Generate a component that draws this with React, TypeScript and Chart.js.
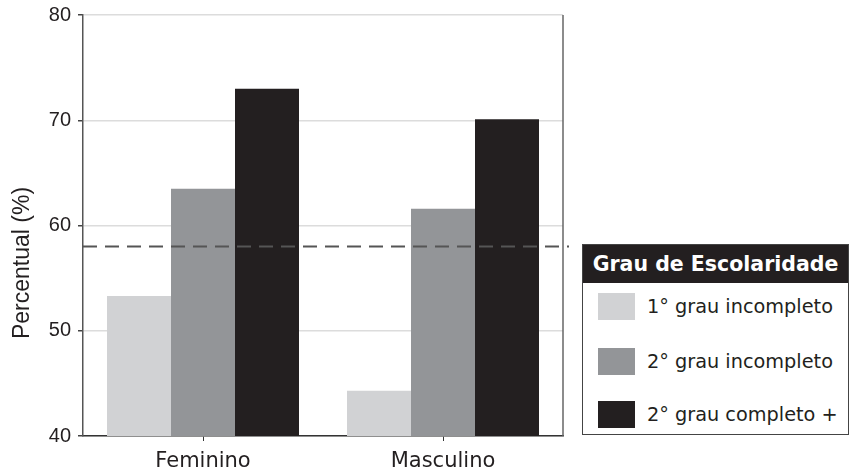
import React, { useEffect, useRef } from "react";
import { Chart, registerables } from "chart.js";

Chart.register(...registerables);

const categories = ["Feminino", "Masculino"];
const seriesLabels = ["1° grau incompleto", "2° grau incompleto", "2° grau completo +"];
const primeiroIncompleto = [53.3, 44.3];
const segundoIncompleto = [63.5, 61.6];
const segundoCompleto = [73.0, 70.1];
const seriesColors = ["#d1d2d4", "#939598", "#231f20"];
const referenceValue = 58;
const yMin = 40;
const yMax = 80;
const yStep = 10;
const yTitle = "Percentual (%)";
const legendTitle = "Grau de Escolaridade";

const overlayPlugin = {
  id: "overlay",
  afterDatasetsDraw(chart: any) {
    const { ctx, chartArea, scales } = chart;
    const y = scales.y.getPixelForValue(referenceValue);
    ctx.save();
    // reference dashed line
    ctx.strokeStyle = "#555555";
    ctx.lineWidth = 2;
    ctx.setLineDash([14, 8]);
    ctx.beginPath();
    ctx.moveTo(chartArea.left, y);
    ctx.lineTo(chartArea.right + 6, y);
    ctx.stroke();
    ctx.setLineDash([]);
    // right border
    ctx.strokeStyle = "#666666";
    ctx.lineWidth = 1.5;
    ctx.beginPath();
    ctx.moveTo(chartArea.right, chartArea.top);
    ctx.lineTo(chartArea.right, chartArea.bottom);
    ctx.stroke();
    // y title
    ctx.fillStyle = "#231f20";
    ctx.font = "23px 'Liberation Sans', Arial, sans-serif";
    ctx.textAlign = "center";
    ctx.textBaseline = "middle";
    ctx.translate(23, 263);
    ctx.rotate(-Math.PI / 2);
    ctx.fillText(yTitle, 0, 0);
    ctx.restore();
  },
};

export default function App() {
  const ref = useRef<HTMLCanvasElement | null>(null);

  useEffect(() => {
    if (!ref.current) return;
    const seriesData = [primeiroIncompleto, segundoIncompleto, segundoCompleto];
    const chart = new Chart(ref.current, {
      type: "bar",
      data: {
        labels: categories,
        datasets: seriesLabels.map((label, i) => ({
          label,
          data: seriesData[i],
          backgroundColor: seriesColors[i],
          borderWidth: 0,
          barPercentage: 1.0,
          categoryPercentage: 0.8,
        })),
      },
      options: {
        animation: false,
        responsive: false,
        devicePixelRatio: 1,
        layout: { padding: { left: 0, right: 292, top: 15, bottom: 0 } },
        plugins: {
          legend: { display: false },
          tooltip: { enabled: false },
        },
        scales: {
          x: {
            afterFit: (scale: any) => {
              scale.height = 36;
              scale.paddingLeft = 0;
              scale.paddingRight = 0;
            },
            grid: {
              offset: false,
              drawOnChartArea: false,
              drawTicks: true,
              tickLength: 5,
              tickColor: "#333333",
            },
            border: { color: "#333333", width: 1.5 },
            ticks: {
              color: "#231f20",
              padding: 8,
              font: { family: "'DejaVu Sans', sans-serif", size: 21 },
            },
          },
          y: {
            min: yMin,
            max: yMax,
            afterFit: (scale: any) => {
              scale.width = 83;
              scale.paddingTop = 0;
              scale.paddingBottom = 0;
            },
            grid: {
              color: "#dcdcdc",
              lineWidth: 1.5,
              tickColor: "#444444",
              tickLength: 5,
            },
            border: { color: "#555555", width: 1.5 },
            ticks: {
              stepSize: yStep,
              color: "#231f20",
              padding: 7,
              font: { family: "'Liberation Sans', Arial, sans-serif", size: 20 },
            },
          },
        },
      },
      plugins: [overlayPlugin],
    });
    return () => chart.destroy();
  }, []);

  const swatchTops = [293, 348, 401];

  return (
    <div style={{ position: "fixed", left: 0, top: 0, width: 855, height: 472, background: "#fff" }}>
      <canvas ref={ref} width={855} height={472} style={{ position: "absolute", left: 0, top: 0, width: 855, height: 472 }} />
      <div
        style={{
          position: "absolute",
          left: 582,
          top: 244,
          width: 267,
          height: 191,
          boxSizing: "border-box",
          border: "1.5px solid #444",
          background: "#fff",
          fontFamily: "'DejaVu Sans', sans-serif",
        }}
      >
        <div
          style={{
            height: 38,
            background: "#231f20",
            color: "#fff",
            fontWeight: "bold",
            fontSize: 20.5,
            lineHeight: "38px",
            textAlign: "center",
            whiteSpace: "nowrap",
          }}
        >
          {legendTitle}
        </div>
        {seriesLabels.map((label, i) => (
          <div key={label} style={{ position: "absolute", left: 0, top: swatchTops[i] - 244 - 1.5, height: 27, width: 265 }}>
            <div style={{ position: "absolute", left: 14.5, top: 0, width: 37, height: 27, background: seriesColors[i] }} />
            <div
              style={{
                position: "absolute",
                left: 64,
                top: 0,
                height: 27,
                lineHeight: "27px",
                fontSize: 19.3,
                color: "#231f20",
                whiteSpace: "nowrap",
              }}
            >
              {label}
            </div>
          </div>
        ))}
      </div>
    </div>
  );
}
